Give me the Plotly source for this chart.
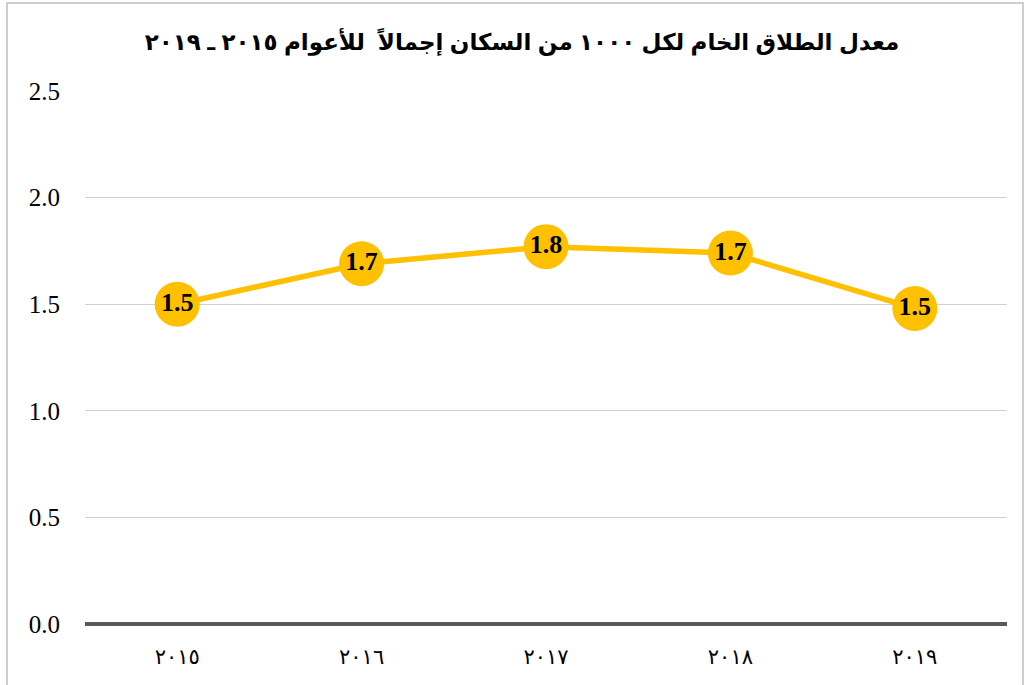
import plotly.graph_objects as go

years = ["٢٠١٥", "٢٠١٦", "٢٠١٧", "٢٠١٨", "٢٠١٩"]
rates = [1.50, 1.69, 1.77, 1.74, 1.48]
y_ticks = [0.0, 0.5, 1.0, 1.5, 2.0, 2.5]
title_text = "معدل الطلاق الخام لكل ١٠٠٠ من السكان إجمالاً  للأعوام ٢٠١٥ ـ ٢٠١٩"

W, H = 1024, 685
L, R, T, B = 85, 17, 91, 61
pw, ph = W - L - R, H - T - B

fig = go.Figure()
fig.add_trace(go.Scatter(
    x=years, y=rates, mode="lines+markers+text",
    line=dict(color="#FFC000", width=5.5),
    marker=dict(size=45, color="#FFC000", line=dict(width=0)),
    text=[f"{v:.1f}" for v in rates],
    textposition="middle center",
    textfont=dict(family="Liberation Serif, Times New Roman, serif", size=26, color="black", weight="bold"),
    cliponaxis=False,
    hoverinfo="skip",
))

fig.update_layout(
    width=W, height=H,
    margin=dict(l=L, r=R, t=T, b=B),
    paper_bgcolor="white", plot_bgcolor="white",
    showlegend=False,
    title=dict(text=title_text, x=522 / W, xanchor="center", y=1 - 42 / H, yanchor="middle",
               font=dict(family="Arial, Liberation Sans, DejaVu Sans, sans-serif", size=23, color="black", weight="bold")),
    xaxis=dict(
        type="category", range=[-0.5, 4.5],
        showgrid=False, zeroline=False, showline=False, ticks="",
        tickfont=dict(family="DejaVu Sans, Arial, sans-serif", size=21, color="black"),
        ticklabelstandoff=18,
    ),
    yaxis=dict(
        range=[0, 2.5], tickvals=y_ticks, ticktext=[f"{v:.1f}" for v in y_ticks],
        showgrid=True, gridcolor="#D0D0D0", gridwidth=1,
        zeroline=True, zerolinecolor="#595959", zerolinewidth=4,
        showline=False, ticks="",
        tickfont=dict(family="Liberation Serif, Times New Roman, serif", size=25, color="black"),
        ticklabelstandoff=24,
    ),
    shapes=[dict(
        type="rect", xref="paper", yref="paper",
        x0=(7 - L) / pw, x1=(1023 - L) / pw,
        y0=(H - B - 690) / ph, y1=(H - B - 3) / ph,
        line=dict(color="#BFBFBF", width=1.5), fillcolor="rgba(0,0,0,0)", layer="below",
    )],
)

fig.write_html("out.html", config={"displayModeBar": False},
               post_script="document.body.style.margin='0';document.body.style.overflow='hidden';")
